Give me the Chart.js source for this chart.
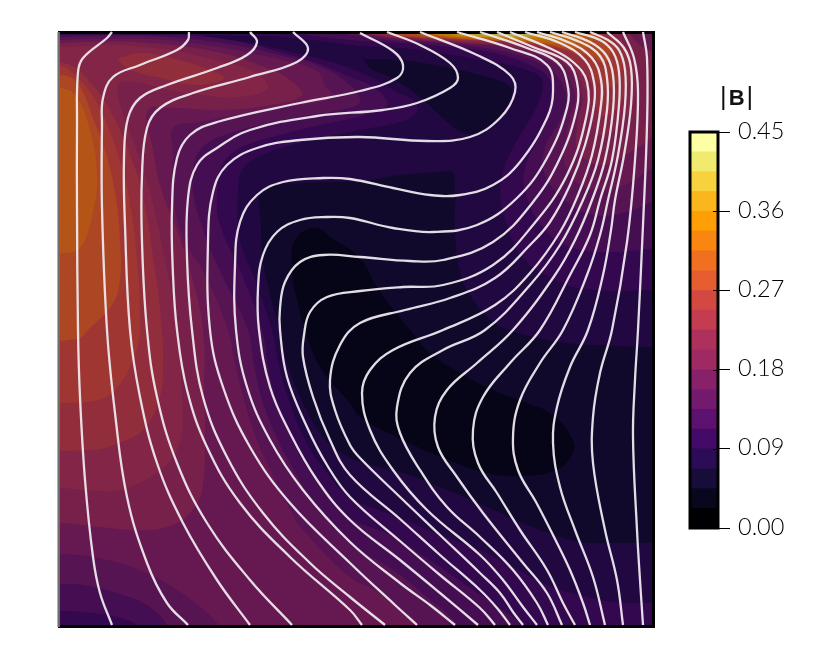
<!DOCTYPE html>
<html>
<head>
<meta charset="utf-8">
<title>|B|</title>
<script src="https://cdn.jsdelivr.net/npm/chart.js@4/dist/chart.umd.min.js"></script>
<style>
  html, body { margin: 0; padding: 0; background: #fff; overflow: hidden; }
  canvas { position: absolute; left: 0; top: 0; }
  #barTitle { position: absolute; left: 720px; top: 81px; font: 25.5px/30px "Liberation Sans", sans-serif; color: #111; }
  #barTitle b { font-size: 22px; margin: 0 2px; }
</style>
</head>
<body>
<canvas id="fieldChart" width="831" height="659"></canvas>
<canvas id="barChart" width="831" height="659"></canvas>
<div id="barTitle">|<b>B</b>|</div>
<script>
// colour bar
const barColors = ['#000004', '#08071e', '#170c3a', '#2c0b57', '#440a68', '#5c126e', '#731a6e', '#88216a', '#9f2a63', '#ae315d',
  '#c33c50', '#d44842', '#e65d2f', '#f1701f', '#f98610', '#fd9f05', '#fbb61d', '#f8d13f', '#f0ea6e', '#fcffa4'];
const bandStep = 0.0225;
const tickValues = [0, 0.09, 0.18, 0.27, 0.36, 0.45];
const tickLabels = ['0.00', '0.09', '0.18', '0.27', '0.36', '0.45'];

// domain of the square, x to the right, y down from the top wall
const domainX = [0, 596];
const domainY = [0, 595];

// |B| contours, [band, outline]. Lower bands first, the upper ones paint over them
const band4 = [[602,571],[555,570],[522,563],[489,553],[455,535],[422,518],[382,503],[342,486],[292,465],[267,438],[247,408],[232,371],[222,338],[214,298],[197,248],[182,208],[180,160],[184,138],[204,123],[242,111],[302,98],[342,90],[359,80],[355,68],[339,60],[319,48],[292,36],[259,26],[225,18],[192,11],[147,4],[192,4],[222,5],[262,9],[302,14],[342,16],[382,21],[422,28],[462,36],[484,48],[477,78],[465,98],[447,133],[442,160],[449,193],[465,226],[502,250],[535,258],[602,258],[622,258],[622,-22],[-48,-22],[-48,618],[622,618],[622,571],[602,571]];
const band5Left = [[-38,579],[2,579],[25,580],[59,585],[82,595],[87,608],[462,608],[464,595],[442,576],[422,563],[372,528],[332,503],[292,486],[267,461],[247,431],[234,408],[219,371],[210,333],[204,298],[182,238],[162,193],[159,160],[164,133],[182,116],[222,103],[262,93],[307,83],[329,73],[317,56],[292,45],[259,31],[225,21],[192,12],[142,4],[92,3],[42,2.5],[2,3],[-38,4]];
const band5Top = [[242,2],[292,8],[342,11],[382,14],[432,20],[472,33],[492,48],[494,68],[482,103],[467,136],[469,166],[489,200],[515,216],[555,220],[602,216],[622,216],[622,-22],[222,-22],[242,2]];
const band6Left = [[-38,552],[2,552],[25,553],[59,561],[92,575],[110,595],[112,608],[399,608],[401,595],[369,565],[335,538],[292,511],[257,473],[232,431],[220,408],[205,371],[196,333],[190,298],[164,243],[147,203],[135,160],[137,128],[147,113],[167,103],[202,93],[242,85],[282,78],[302,70],[292,53],[259,33],[225,24],[192,16],[142,8],[92,4],[42,4],[2,5],[-38,7]];
const band6Top = [[272,0],[342,9],[392,12],[452,21],[492,38],[508,63],[502,88],[487,116],[487,143],[509,170],[535,183],[565,181],[602,168],[622,168],[622,-22],[252,-22],[272,0]];
const band7Left = [[-38,522],[2,522],[35,525],[82,538],[119,558],[142,575],[162,595],[164,608],[362,608],[362,595],[345,578],[322,561],[292,545],[245,498],[232,478],[209,431],[197,403],[187,371],[177,331],[170,298],[147,243],[124,203],[115,160],[115,118],[115,96],[142,90],[192,81],[242,73],[274,65],[267,53],[259,39],[225,28],[192,21],[142,12],[92,7],[42,7],[2,8],[-38,10]];
const band7Top = [[282,0],[342,7.5],[392,11],[462,18],[502,36],[517,63],[512,86],[507,113],[507,133],[522,153],[542,158],[567,153],[602,133],[622,133],[622,-22],[262,-22],[282,0]];
const band8Left = [[-38,491],[2,491],[42,495],[79,498],[109,495],[132,481],[144,458],[147,398],[146,365],[145,298],[132,238],[117,193],[104,160],[95,118],[90,78],[117,76],[162,78],[212,73],[244,63],[232,48],[209,36],[159,20],[92,11],[25,10],[-38,13]];
const band8Top = [[292,0],[342,6.5],[392,10],[462,17],[507,33],[524,63],[520,88],[520,118],[542,133],[567,123],[602,93],[602,28],[582,13],[572,0],[572,-22],[272,-22],[292,0]];
const band9Left = [[-38,456],[2,456],[39,459],[62,458],[92,445],[115,425],[124,398],[124,365],[120,298],[107,228],[92,160],[77,113],[64,78],[60,53],[77,50],[102,56],[142,63],[182,65],[210,56],[197,40],[157,28],[112,18],[62,13],[22,14],[-38,17]];
const band9Top = [[297,0],[342,5.5],[392,9],[472,16],[510,30],[527,58],[532,83],[542,103],[562,93],[577,63],[577,28],[567,13],[562,0],[562,-22],[282,-22],[297,0]];
const band10Left = [[-38,418],[35,418],[55,413],[85,398],[102,365],[105,331],[104,298],[97,238],[84,160],[70,118],[52,78],[32,50],[12,33],[-38,24]];
const band10Blob = [[61,26],[83,21],[113,26],[146,36],[166,46],[139,53],[103,46],[73,38],[61,29],[61,26]];
const band10Top = [[307,0],[342,4.5],[392,8],[477,14],[517,30],[534,53],[542,83],[557,78],[570,53],[570,23],[557,6],[552,0],[552,-22],[292,-22],[307,0]];
const band11Left = [[-38,370],[29,370],[52,362],[69,341],[80,313],[82,298],[80,238],[70,160],[55,108],[37,68],[20,46],[0,33],[-38,33]];
const band11Top = [[317,0],[342,4],[392,7],[482,13],[527,28],[542,53],[557,53],[564,28],[552,8],[542,0],[542,-22],[302,-22],[317,0]];
const band12Left = [[-38,308],[19,307],[32,296],[54,273],[62,248],[62,208],[57,160],[47,118],[35,86],[25,60],[14,46],[0,43],[-38,43]];
const band12Top = [[325,0],[342,3.5],[392,6.5],[482,12],[532,24],[547,30],[552,16],[539,0],[539,-22],[312,-22],[325,0]];
const band13Left = [[-38,221],[2,221],[22,216],[35,180],[39,143],[32,98],[17,63],[2,56],[-38,56]];
const band13Top = [[335,0],[392,6],[482,11],[527,16],[537,0],[537,-22],[325,-22],[335,0]];
const band14Top = [[350,0],[402,5.5],[482,10],[517,11],[527,0],[527,-22],[340,-22],[350,0]];
const band15Top = [[365,0],[392,4.5],[442,6],[482,8],[512,0],[512,-22],[355,-22],[365,0]];
const band16Top = [[385,0],[402,4],[442,5.5],[472,6],[497,0],[497,-22],[375,-22],[385,0]];
const band17Top = [[400,0],[412,3.5],[442,4.5],[472,4.5],[487,0],[487,-22],[390,-22],[400,0]];
const band18Top = [[420,0],[432,3],[462,3.5],[477,0],[477,-22],[410,-22],[420,0]];
const band2Top = [[305,27],[342,28],[382,34],[422,43],[452,55],[450,73],[432,93],[410,102],[387,88],[362,65],[337,48],[312,36],[305,27]];
const band2Mid = [[204,226],[203,193],[204,158],[242,151],[302,149],[342,143],[382,140],[394,140],[397,158],[397,200],[402,240],[412,263],[435,290],[455,299],[475,305],[509,311],[555,314],[602,315],[622,315],[622,511],[602,511],[555,511],[522,510],[482,498],[429,475],[389,458],[345,441],[302,430],[282,420],[265,405],[245,371],[229,331],[222,298],[212,263],[204,226]];
const band1Mid = [[352,298],[372,321],[402,341],[435,358],[469,371],[495,383],[515,408],[515,421],[499,438],[462,444],[429,441],[385,426],[345,408],[302,385],[292,371],[269,345],[255,321],[247,298],[239,268],[234,238],[237,208],[257,196],[277,208],[302,226],[322,260],[352,298]];

// whole square sits on band 3
const band3All = [[-48,-22],[622,-22],[622,618],[-48,618]];

const contours = [
  [3, band3All], [4, band4], [5, band5Left], [5, band5Top], [6, band6Left], [6, band6Top], [7, band7Left], [7, band7Top],
  [8, band8Left], [8, band8Top], [9, band9Left], [9, band9Top], [10, band10Left], [10, band10Blob], [10, band10Top],
  [11, band11Left], [11, band11Top], [12, band12Left], [12, band12Top], [13, band13Left], [13, band13Top],
  [14, band14Top], [15, band15Top], [16, band16Top], [17, band17Top], [18, band18Top],
  [2, band2Top], [2, band2Mid], [1, band1Mid]
];

// field lines
const line1 = [[54,0],[49,6],[25,26],[20,40],[19,93],[19,176],[20,298],[22,365],[27,448],[35,525],[42,561],[54,593]];
const line2 = [[131,0],[130,8],[119,18],[82,33],[55,45],[45,66],[44,93],[44,176],[49,298],[57,381],[69,465],[89,531],[109,571],[130,593]];
const line3 = [[192,0],[199,10],[189,23],[159,36],[109,53],[82,66],[70,86],[66,126],[67,193],[72,298],[82,365],[99,431],[125,491],[159,548],[192,593]];
const line4 = [[235,0],[250,16],[239,30],[192,45],[135,61],[102,76],[89,96],[84,143],[84,210],[89,298],[99,365],[119,431],[149,491],[192,548],[234,593]];
const line5 = [[302,1],[335,19],[345,33],[339,46],[302,59],[242,71],[159,90],[132,103],[119,126],[114,176],[115,243],[119,298],[129,358],[149,415],[182,471],[232,525],[292,578],[304,593]];
const line6 = [[329,0],[362,13],[392,31],[400,46],[392,56],[359,71],[325,78],[259,84],[192,98],[159,116],[139,133],[130,166],[129,226],[134,298],[145,365],[169,425],[205,481],[252,531],[292,565],[327,593]];
const line7 = [[362,0],[419,23],[452,43],[457,60],[442,86],[412,105],[369,109],[302,105],[242,108],[199,116],[169,133],[155,160],[150,210],[152,298],[165,355],[192,415],[232,471],[292,531],[337,573],[359,593]];
const line8 = [[399,0],[452,16],[489,33],[495,60],[489,86],[462,130],[435,153],[402,163],[372,163],[335,156],[292,147],[265,146],[225,150],[199,163],[182,190],[177,233],[178,298],[189,355],[212,408],[245,458],[292,510],[342,551],[372,573],[397,593]];
const line9 = [[422,0],[469,16],[499,30],[509,50],[509,76],[489,126],[459,166],[419,193],[375,200],[335,196],[292,186],[269,185],[242,188],[219,200],[205,223],[200,256],[201,298],[212,355],[232,401],[259,448],[292,488],[342,528],[382,561],[420,593]];
const line10 = [[439,0],[475,15],[509,30],[519,50],[519,76],[502,126],[475,170],[435,210],[385,228],[352,229],[302,225],[265,223],[242,230],[227,250],[222,276],[222,298],[229,345],[249,395],[269,433],[292,465],[342,509],[382,543],[422,576],[437,593]];
const line11 = [[452,0],[489,15],[515,30],[529,50],[528,86],[509,143],[475,193],[435,233],[385,253],[345,255],[302,259],[269,265],[252,280],[246,303],[245,325],[255,365],[272,408],[292,443],[342,487],[382,523],[422,558],[439,576],[452,593]];
const line12 = [[467,0],[502,11],[527,28],[536,50],[536,73],[527,113],[512,153],[492,190],[472,213],[437,246],[392,266],[347,278],[302,291],[282,313],[272,348],[277,378],[292,413],[302,426],[342,465],[382,503],[422,541],[442,561],[455,580],[465,593]];
const line13 = [[479,0],[512,11],[534,26],[543,48],[543,73],[534,123],[520,163],[502,200],[472,241],[437,273],[385,298],[335,318],[312,338],[304,361],[312,398],[335,438],[369,478],[422,523],[445,548],[465,575],[479,593]];
const line14 = [[492,0],[522,10],[542,24],[549,46],[549,78],[540,128],[525,168],[502,213],[472,253],[427,298],[385,318],[352,341],[339,375],[342,401],[362,438],[389,475],[422,505],[455,538],[479,571],[490,593]];
const line15 = [[504,0],[532,10],[548,23],[555,43],[555,78],[547,128],[534,168],[517,208],[497,243],[455,298],[419,331],[389,358],[377,385],[380,415],[399,445],[425,481],[465,531],[489,561],[504,593]];
const line16 = [[517,0],[542,8],[555,20],[561,40],[561,73],[554,128],[542,168],[532,203],[512,243],[482,298],[452,331],[425,365],[415,398],[420,431],[439,461],[462,498],[489,538],[505,571],[517,593]];
const line17 = [[532,0],[550,8],[561,18],[567,38],[567,73],[560,123],[550,168],[542,203],[529,243],[505,298],[482,331],[462,368],[455,405],[460,438],[478,470],[495,503],[512,538],[525,571],[532,593]];
const line18 = [[549,0],[566,16],[573,36],[573,73],[566,123],[557,168],[553,198],[545,243],[530,298],[512,335],[499,375],[495,411],[502,455],[517,498],[535,545],[547,593]];
const line19 = [[565,0],[576,26],[580,60],[577,128],[569,210],[554,298],[542,341],[535,385],[535,431],[547,498],[559,548],[565,593]];
const line20 = [[585,0],[589,26],[589,93],[585,193],[580,298],[577,348],[575,405],[579,498],[582,548],[585,593]];
const fieldLines = [line1, line2, line3, line4, line5, line6, line7, line8, line9, line10, line11, line12, line13, line14, line15, line16, line17, line18, line19, line20];

// frame of the square
const frameDark = [[0,0.5],[595.5,0.5],[595.5,594.5],[0,594.5]];
const frameLeft = [[0.7,0],[0.7,595]];

// the 3d view darkens the surface a little compared to the colour bar
function shaded(hex) {
  const n = parseInt(hex.slice(1), 16);
  return 'rgb(' + Math.round((n >> 16) * 0.75) + ',' + Math.round(((n >> 8) & 255) * 0.75) + ',' + Math.round((n & 255) * 0.75) + ')';
}

function toPoints(list) {
  return list.map(p => ({ x: p[0], y: p[1] }));
}

const datasets = [];
contours.forEach(c => {
  datasets.push({
    data: toPoints(c[1]),
    fill: 'shape',
    backgroundColor: shaded(barColors[c[0]]),
    borderWidth: 0,
    pointRadius: 0,
    tension: 0.4
  });
});
datasets.push({ data: toPoints(frameDark), borderColor: '#000', borderWidth: 3, pointRadius: 0, tension: 0, clip: 4 });
datasets.push({ data: toPoints(frameLeft), borderColor: '#6e6e6e', borderWidth: 2.5, pointRadius: 0, tension: 0, clip: 4 });
fieldLines.forEach(l => {
  datasets.push({ data: toPoints(l), borderColor: 'rgba(238,232,238,0.95)', borderWidth: 2.3, pointRadius: 0, tension: 0.4, clip: 3 });
});
// first dataset has to go underneath
datasets.forEach((d, i) => { d.order = -i; });

new Chart(document.getElementById('fieldChart'), {
  type: 'line',
  data: { datasets: datasets },
  options: {
    responsive: false,
    animation: false,
    events: [],
    layout: { padding: { left: 58, top: 32, right: 177, bottom: 32 } },
    elements: { line: { capBezierPoints: false } },
    scales: {
      x: { type: 'linear', display: false, min: domainX[0], max: domainX[1] },
      y: { type: 'linear', display: false, reverse: true, min: domainY[0], max: domainY[1] }
    },
    plugins: { legend: { display: false }, tooltip: { enabled: false } }
  }
});

// outline of the bar and the small inner part of the ticks
const barOutline = {
  id: 'barOutline',
  afterDraw(chart) {
    const a = chart.chartArea;
    const c = chart.ctx;
    const y = chart.scales.y;
    c.save();
    c.strokeStyle = '#000';
    c.lineWidth = 3;
    c.strokeRect(a.left, a.top, a.right - a.left, a.bottom - a.top);
    c.lineWidth = 1;
    tickValues.forEach(v => {
      const py = Math.round(y.getPixelForValue(v)) + 0.5;
      c.beginPath();
      c.moveTo(a.right - 5, py);
      c.lineTo(a.right, py);
      c.stroke();
    });
    c.restore();
  }
};

new Chart(document.getElementById('barChart'), {
  type: 'bar',
  data: {
    labels: [''],
    datasets: barColors.map(col => ({ data: [bandStep], backgroundColor: col, borderWidth: 0, barPercentage: 1, categoryPercentage: 1 }))
  },
  options: {
    responsive: false,
    animation: false,
    events: [],
    layout: { padding: { left: 690, top: 132, right: 0, bottom: 131 } },
    scales: {
      x: { display: false, stacked: true },
      y: {
        stacked: true,
        position: 'right',
        min: 0,
        max: 0.45,
        afterFit(s) { s.width = 113; },
        afterBuildTicks(s) { s.ticks = tickValues.map(v => ({ value: v })); },
        border: { display: false },
        grid: { drawOnChartArea: false, tickLength: 12, tickColor: '#000', lineWidth: 1 },
        ticks: {
          padding: 8,
          labelOffset: -1,
          color: '#000',
          font: { family: 'Lato', size: 23.5, weight: '300' },
          callback: (v, i) => tickLabels[i]
        }
      }
    },
    plugins: { legend: { display: false }, tooltip: { enabled: false } }
  },
  plugins: [barOutline]
});
</script>
</body>
</html>
